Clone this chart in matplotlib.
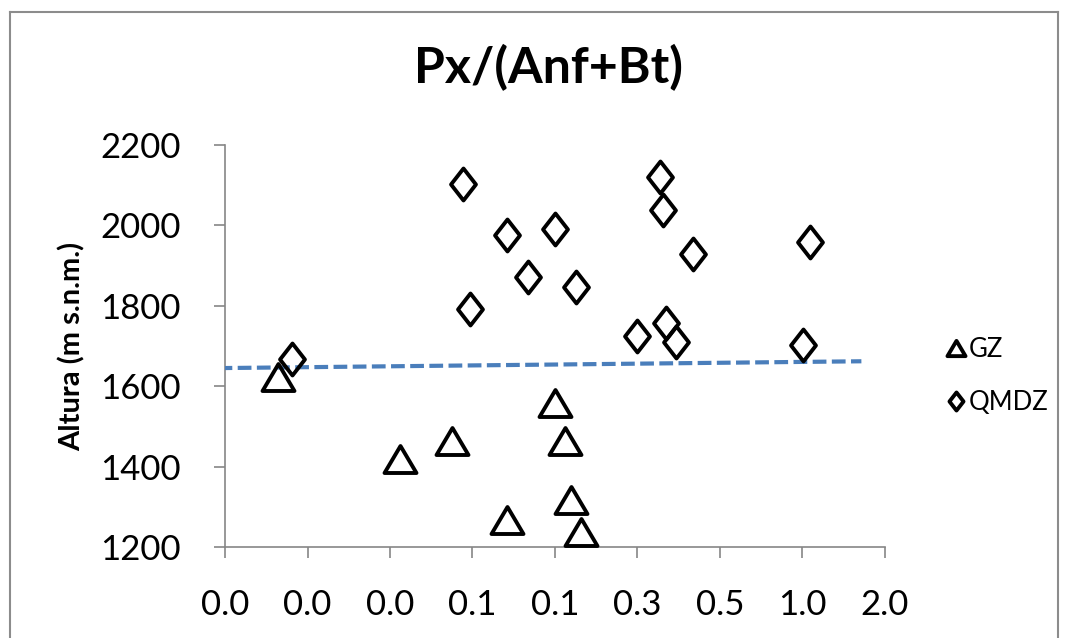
import numpy as np
import matplotlib
matplotlib.use("Agg")
import matplotlib.pyplot as plt
from matplotlib.path import Path
from matplotlib.lines import Line2D

plt.rcParams['font.family'] = ['Lato', 'DejaVu Sans']

# ---- data ----
title = "Px/(Anf+Bt)"
ylabel = "Altura (m s.n.m.)"
series_names = ["GZ", "QMDZ"]

gz_x = [0.01218, 0.03396, 0.05256, 0.0836, 0.1246, 0.1354, 0.1426, 0.1550]
gz_y = [1623, 1420, 1464, 1266, 1557, 1464, 1318, 1237]

qmdz_x = [0.0137, 0.0579, 0.0612, 0.0836, 0.0993, 0.1246, 0.1487, 0.25,
          0.3015, 0.310, 0.3187, 0.3463, 0.3977, 1.003, 1.061]
qmdz_y = [1668, 2103, 1793, 1975, 1872, 1992, 1847, 1726,
          2121, 2038, 1758, 1711, 1929, 1702, 1958]

trend_x = [0.0074, 1.64]
trend_y = [1645, 1662]

x_ticks = [2.0 ** k for k in range(-7, 2)]
x_tick_labels = ["0.0", "0.0", "0.0", "0.1", "0.1", "0.3", "0.5", "1.0", "2.0"]
y_ticks = [1200, 1400, 1600, 1800, 2000, 2200]

# ---- markers ----
diamond = Path([(0, 1), (0.78, 0), (0, -1), (-0.78, 0), (0, 1)],
               [Path.MOVETO, Path.LINETO, Path.LINETO, Path.LINETO, Path.CLOSEPOLY])
triangle = Path([(-1, -0.845), (1, -0.845), (0, 0.845), (-1, -0.845)],
                [Path.MOVETO, Path.LINETO, Path.LINETO, Path.CLOSEPOLY])

W, H = 1070, 638
fig = plt.figure(figsize=(W / 100, H / 100), dpi=100)
ax = fig.add_axes([225 / W, 1 - 547 / H, (885 - 225) / W, (547 - 145) / H])

ax.set_xscale('log', base=2)
ax.set_xlim(2.0 ** -7, 2.0 ** 1)
ax.set_ylim(1200, 2200)

ax.plot(trend_x, trend_y, linestyle=(0, (3.3, 1.3)), color='#4A7EBB', lw=3.0, zorder=3)
ax.plot(gz_x, gz_y, linestyle='none', marker=triangle, markersize=23,
        markerfacecolor='none', markeredgecolor='black', markeredgewidth=2.8, zorder=4)
ax.plot(qmdz_x, qmdz_y, linestyle='none', marker=diamond, markersize=23,
        markerfacecolor='none', markeredgecolor='black', markeredgewidth=2.8, zorder=4)

ax.set_xticks(x_ticks)
ax.set_xticklabels(x_tick_labels)
ax.xaxis.set_minor_locator(matplotlib.ticker.NullLocator())
ax.set_yticks(y_ticks)
ax.set_yticklabels([str(v) for v in y_ticks])

for s in ['top', 'right']:
    ax.spines[s].set_visible(False)
for s in ['left', 'bottom']:
    ax.spines[s].set_color('#868686')
    ax.spines[s].set_linewidth(1.2)
ax.tick_params(axis='both', colors='#868686', labelcolor='black', labelsize=25,
               width=1.2, length=8, direction='out')
ax.tick_params(axis='x', pad=22)
ax.tick_params(axis='y', pad=24)

fig.text(72 / W, 1 - 346 / H, ylabel, fontsize=21, fontweight='bold',
         rotation=90, ha='center', va='center')
fig.text(548 / W, 1 - 68 / H, title, fontsize=36, fontweight='bold',
         ha='center', va='center')

# legend
handles = [
    Line2D([], [], linestyle='none', marker=triangle, markersize=13,
           markerfacecolor='none', markeredgecolor='black', markeredgewidth=2.8),
    Line2D([], [], linestyle='none', marker=diamond, markersize=13,
           markerfacecolor='none', markeredgecolor='black', markeredgewidth=2.8),
]
fig.legend(handles, series_names, loc='center left',
           bbox_to_anchor=(939 / W, 1 - 376 / H), frameon=False, fontsize=18.5,
           handlelength=0.7, handletextpad=0.15, labelspacing=1.1,
           borderaxespad=0, borderpad=0.3)

# outer border
border = dict(color='#8C8C8C', lw=1.5, transform=fig.transFigure, clip_on=False)
fig.add_artist(Line2D([10 / W, 10 / W], [0, 1 - 12 / H], **border))
fig.add_artist(Line2D([10 / W, 1058 / W], [1 - 12 / H, 1 - 12 / H], **border))
fig.add_artist(Line2D([1058 / W, 1058 / W], [0, 1 - 12 / H], **border))

fig.savefig('out.png', dpi=100)
